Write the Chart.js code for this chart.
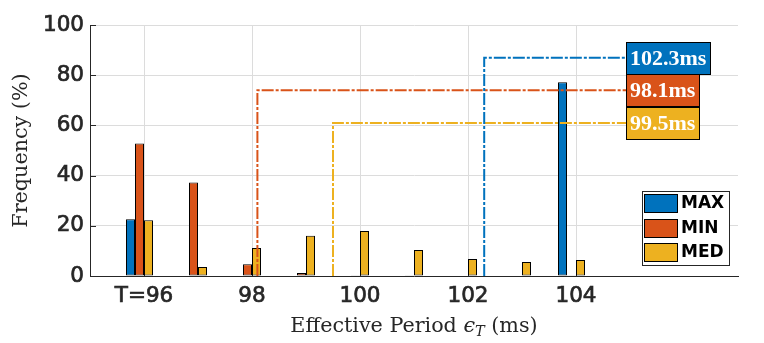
<!DOCTYPE html>
<html><head><meta charset="utf-8">
<script src="https://cdn.jsdelivr.net/npm/chart.js@4"></script>
<style>html,body{margin:0;padding:0;background:#fff}</style>
</head><body><canvas id="c" width="764" height="343"></canvas>
<script>
const categories = [96, 97, 98, 99, 100, 101, 102, 103, 104];
const maxValues = [22.6, 0, 0, 0, 0, 0, 0, 0, 77.2];
const minValues = [52.8, 37.3, 4.7, 1.2, 0.3, 0.3, 0, 0, 0.3];
const medValues = [22.2, 3.6, 11.2, 16.0, 17.9, 10.4, 6.8, 5.6, 6.4];
const hiddenValues = [0, 0, 0, 0, 0, 0, 0, 0, 0];
const seriesNames = ['MAX', 'MIN', 'MED'];
const seriesColors = ['#0072BD', '#D95319', '#EDB120'];
const markerPeriods = [102.3, 98.1, 99.5];
const markerLevels = [87, 74, 61];
const markerEnd = 104.93;
const xTickValues = [96, 98, 100, 102, 104];
const xTickLabels = ['T=96', '98', '100', '102', '104'];
const yTickValues = [0, 20, 40, 60, 80, 100];
const xTitleParts = ['Effective Period ', 'ϵ', 'T', ' (ms)'];
const yTitle = 'Frequency (%)';

const AXIS = '#262626';
const GRID = '#dcdcdc';
const TICK_FONT = {family: '"DejaVu Sans"', size: 21.5};

const seriesValues = [maxValues, minValues, medValues, hiddenValues];
const toPts = vals => categories.map((c, i) => ({x: c, y: vals[i]}));

const barSets = seriesValues.map((vals, k) => ({
  type: 'bar',
  label: seriesNames[k] || '',
  data: toPts(vals),
  backgroundColor: seriesColors[k] || '#888',
  borderColor: '#000',
  borderWidth: 1,
  borderSkipped: false,
  categoryPercentage: 2 / 3,
  barPercentage: 1.0,
  order: 2
}));

const lineSets = markerPeriods.map((p, k) => ({
  type: 'line',
  label: seriesNames[k] + ' period',
  data: [{x: p, y: 0}, {x: p, y: markerLevels[k]}, {x: markerEnd, y: markerLevels[k]}],
  borderColor: seriesColors[k],
  borderWidth: 2,
  borderDash: [12, 2, 3, 2],
  pointRadius: 0,
  fill: false,
  tension: 0,
  order: 1
}));

const innerTicks = {
  id: 'innerTicks',
  beforeDatasetsDraw(chart) {
    const {ctx, chartArea: a, scales: {x, y}} = chart;
    ctx.save();
    ctx.strokeStyle = AXIS; ctx.lineWidth = 1;
    ctx.beginPath();
    yTickValues.forEach(v => { const py = Math.round(y.getPixelForValue(v)) + 0.5; ctx.moveTo(a.left, py); ctx.lineTo(a.left + 6, py); });
    xTickValues.forEach(v => { const px = Math.round(x.getPixelForValue(v)) + 0.5; ctx.moveTo(px, a.bottom); ctx.lineTo(px, a.bottom - 6); });
    ctx.stroke();
    ctx.restore();
  }
};

const markerBoxes = {
  id: 'markerBoxes',
  afterDatasetsDraw(chart) {
    const {ctx, scales: {x, y}} = chart;
    ctx.save();
    ctx.font = 'bold 22px "Liberation Serif"';
    ctx.textBaseline = 'middle';
    markerPeriods.forEach((p, k) => {
      const txt = p.toFixed(1) + 'ms';
      const left = Math.round(x.getPixelForValue(markerEnd));
      const cy = y.getPixelForValue(markerLevels[k]);
      const w = Math.ceil(ctx.measureText(txt).width) + 8;
      const h = 32;
      const top = Math.round(cy - h / 2);
      ctx.fillStyle = seriesColors[k];
      ctx.fillRect(left, top, w, h);
      ctx.strokeStyle = '#000'; ctx.lineWidth = 1;
      ctx.strokeRect(left + 0.5, top + 0.5, w - 1, h);
      ctx.fillStyle = '#fff';
      ctx.fillText(txt, left + 4, top + h / 2 + 1);
    });
    ctx.restore();
  }
};

const boxLegend = {
  id: 'boxLegend',
  afterDraw(chart) {
    const {ctx, chartArea: a} = chart;
    ctx.save();
    ctx.font = 'bold 17px "DejaVu Sans"';
    const tw = Math.max(...seriesNames.map(n => ctx.measureText(n).width));
    const w = Math.round(2 + 34 + 3 + tw + 5);
    const h = 74;
    const left = Math.round(a.right - 9 - w);
    const top = Math.round(a.bottom - 11 - h);
    ctx.fillStyle = '#fff';
    ctx.fillRect(left, top, w, h);
    ctx.strokeStyle = '#262626'; ctx.lineWidth = 1;
    ctx.strokeRect(left + 0.5, top + 0.5, w, h);
    ctx.textBaseline = 'middle';
    seriesNames.forEach((n, k) => {
      const sy = Math.round(top + 3 + k * 24.5);
      ctx.fillStyle = seriesColors[k];
      ctx.fillRect(left + 2, sy, 34, 19);
      ctx.strokeStyle = '#000';
      ctx.strokeRect(left + 2.5, sy + 0.5, 33, 18);
      ctx.fillStyle = '#000';
      ctx.fillText(n, left + 2 + 34 + 3, sy + 10);
    });
    ctx.restore();
  }
};

const axisTitles = {
  id: 'axisTitles',
  afterDraw(chart) {
    const {ctx, chartArea: a} = chart;
    ctx.save();
    ctx.fillStyle = AXIS;
    ctx.textBaseline = 'alphabetic';
    const fs = 20.7;
    const fonts = [`${fs}px "DejaVu Serif"`, `italic ${fs}px "DejaVu Serif"`, `italic 14.5px "DejaVu Serif"`, `${fs}px "DejaVu Serif"`];
    const offs = [0, 0, 4, 0];
    const widths = xTitleParts.map((t, i) => { ctx.font = fonts[i]; return ctx.measureText(t).width; });
    const total = widths.reduce((s, v) => s + v, 0);
    let px = (a.left + a.right) / 2 - total / 2;
    const base = 332;
    xTitleParts.forEach((t, i) => { ctx.font = fonts[i]; ctx.fillText(t, px, base + offs[i]); px += widths[i]; });
    ctx.translate(27, (a.top + a.bottom) / 2);
    ctx.rotate(-Math.PI / 2);
    ctx.font = `${fs}px "DejaVu Serif"`;
    ctx.textAlign = 'center';
    ctx.fillText(yTitle, 0, 0);
    ctx.restore();
  }
};

new Chart(document.getElementById('c'), {
  data: {datasets: [...barSets, ...lineSets]},
  options: {
    responsive: false,
    animation: false,
    devicePixelRatio: 1,
    layout: {padding: {top: 25, right: 26, left: 0, bottom: 0}},
    plugins: {legend: {display: false}, tooltip: {enabled: false}},
    scales: {
      x: {
        type: 'linear', min: 95, max: 107, offset: false,
        afterBuildTicks: s => { s.ticks = xTickValues.map(v => ({value: v})); },
        afterFit: s => { s.height = 67; },
        ticks: {
          font: TICK_FONT, color: AXIS, padding: 8, maxRotation: 0, autoSkip: false,
          textStrokeColor: AXIS, textStrokeWidth: 0.7,
          callback: v => { const i = xTickValues.indexOf(v); return i >= 0 ? xTickLabels[i] : ''; }
        },
        grid: {color: GRID, drawTicks: false, offset: false},
        border: {display: true, color: AXIS, width: 1}
      },
      y: {
        type: 'linear', min: 0, max: 100,
        afterBuildTicks: s => { s.ticks = yTickValues.map(v => ({value: v})); },
        afterFit: s => { s.width = 90; },
        ticks: {font: TICK_FONT, color: AXIS, padding: 6, textStrokeColor: AXIS, textStrokeWidth: 0.7},
        grid: {color: GRID, drawTicks: false},
        border: {display: true, color: AXIS, width: 1}
      }
    }
  },
  plugins: [innerTicks, markerBoxes, boxLegend, axisTitles]
});
</script>
</body></html>
